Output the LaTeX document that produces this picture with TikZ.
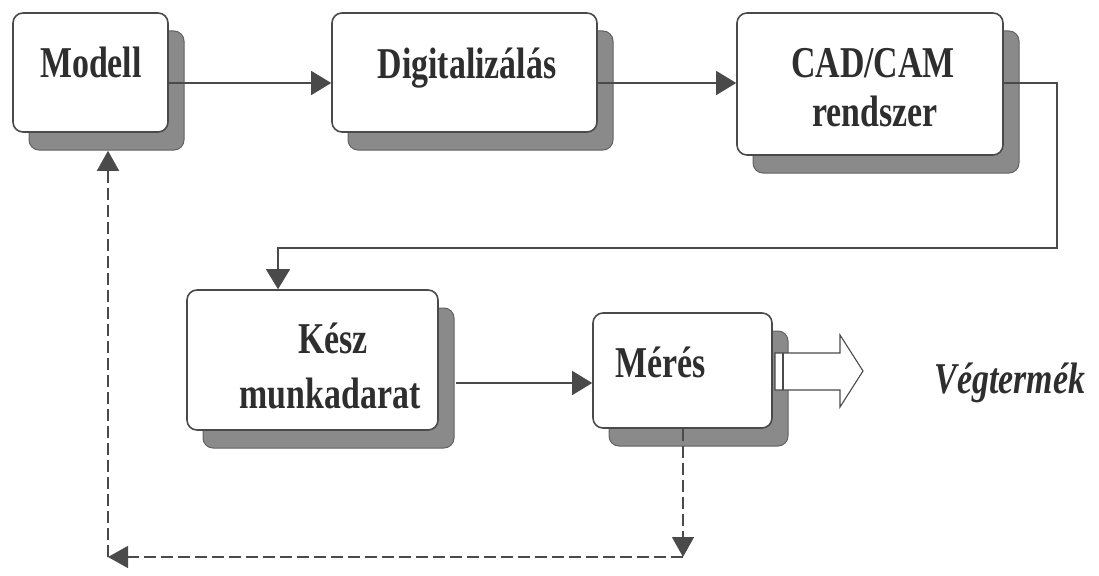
\documentclass[tikz,border=0pt]{standalone}
\usepackage{fontspec}
\setmainfont{Liberation Serif}
\newfontfamily\condfont{Liberation Serif}[FakeStretch=0.77]
\usetikzlibrary{shadows,arrows.meta}
\definecolor{edge}{HTML}{4A4A4A}
\definecolor{shade}{HTML}{8A8A8A}
\definecolor{shadeedge}{HTML}{626262}
\definecolor{ink}{HTML}{2E2E2E}
\begin{document}
\begin{tikzpicture}[x=1pt,y=-1pt,
  box/.style={draw=edge, line width=1.6pt, fill=white, rounded corners=10pt, inner sep=0pt,
    general shadow={shadow xshift=16pt, shadow yshift=-18pt, fill=shade, draw=shadeedge, line width=1pt}},
  lbl/.style={font=\condfont\fontsize{44}{50}\selectfont\bfseries, text=ink, anchor=base, inner sep=0pt},
  flow/.style={draw=edge, line width=1.3pt, -{Triangle[length=20pt,width=24pt]}},
  back/.style={draw=edge, line width=1.4pt, dash pattern=on 12pt off 5pt, -{Triangle[length=20pt,width=22pt]}}]
\useasboundingbox (0,0) rectangle (1099,575);
% boxes
\node[box, minimum width=155pt, minimum height=119pt] (modell) at (90.5,72.5) {};
\node[box, minimum width=265pt, minimum height=119pt] (digit) at (464.5,72.5) {};
\node[box, minimum width=266pt, minimum height=142pt] (cad) at (870,84) {};
\node[box, minimum width=251pt, minimum height=140pt] (kesz) at (312.5,360) {};
\node[box, minimum width=179pt, minimum height=115pt] (meres) at (682.5,370.5) {};
% labels
\node[lbl] (tmodell) at (91,78) {Modell};
\node[lbl] (tdigit) at (467,79) {Digitalizálás};
\node[lbl] (tcad1) at (873,78) {CAD/CAM};
\node[lbl] (tcad2) at (875,127) {rendszer};
\node[lbl] (tkesz1) at (333,353) {Kész};
\node[lbl] (tkesz2) at (330,408) {munkadarat};
\node[lbl] (tmeres) at (661,377) {Mérés};
\node[lbl, font=\condfont\fontsize{44}{50}\selectfont\bfseries\itshape] (tveg) at (1010,393) {Végtermék};
% helper coordinates
\coordinate (r1) at (0,83);
\coordinate (r2) at (0,383);
\coordinate (c1) at (1057,248);
\coordinate (c2) at (278,248);
\coordinate (d1) at (683,557);
\coordinate (d2) at (108,557);
% solid flow
\draw[flow] (modell.east |- r1) -- (digit.west |- r1);
\draw[flow] (digit.east |- r1) -- (cad.west |- r1);
\draw[flow, line width=1.1pt] (cad.east |- r1) -| (c1) -- (c2) -- (c2 |- kesz.north);
\draw[flow] ([xshift=17pt]kesz.east |- r2) -- (meres.west |- r2);
% dashed feedback
\draw[back] (meres.south -| d1) -- (d1);
\draw[back] (d1) -- (d2);
\draw[back, shorten >=18pt] (d2) -- (modell.south -| d2);
% hollow output arrow
\draw[draw=edge, fill=white, line width=1.1pt] (775,353) -- (840,353) -- (840,335) -- (863,371) -- (840,407) -- (840,390) -- (775,390) -- cycle;
\draw[draw=edge, line width=1.1pt] (783,353) -- (783,390);
\end{tikzpicture}
\end{document}
